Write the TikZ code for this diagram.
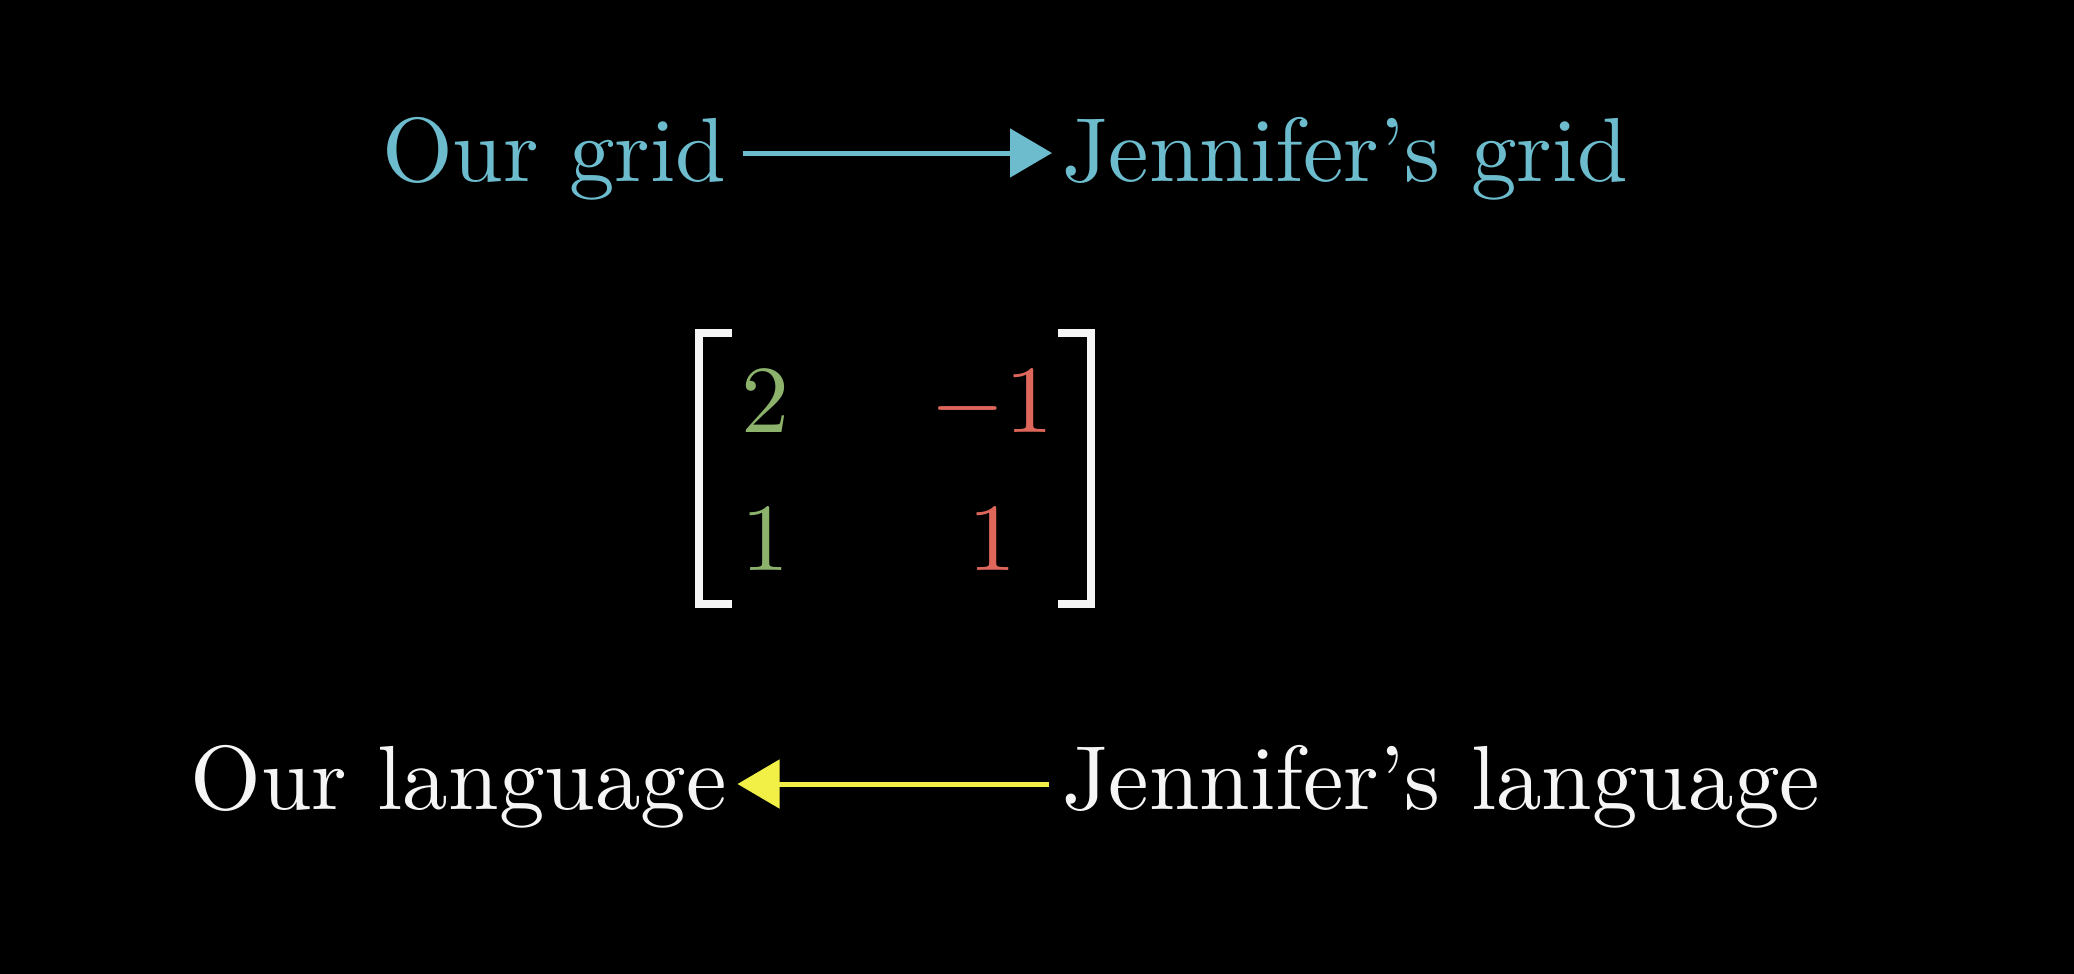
\documentclass[tikz,border=0pt]{standalone}
\usetikzlibrary{arrows.meta,calc}
\definecolor{gridblue}{RGB}{108,188,206}
\definecolor{colgreen}{RGB}{140,178,108}
\definecolor{colred}{RGB}{222,102,90}
\definecolor{arrowyellow}{RGB}{242,240,70}
\definecolor{txtwhite}{RGB}{245,245,245}
\tikzset{
  lbl/.style={inner sep=0pt, outer sep=0pt},
  ent/.style={inner sep=0pt, outer sep=0pt, anchor=base},
  conn/.style={line width=5pt, -{Triangle[length=42pt,width=48pt]}},
  brk/.style={draw=txtwhite, line width=8pt, line cap=butt, line join=miter}
}
\newcommand{\bigtxt}[1]{\scalebox{9.1}{#1}}
\newcommand{\bigmath}[1]{\scalebox{9.6}{$#1$}}
\begin{document}
\begin{tikzpicture}[x=1pt,y=-1pt]
\fill[black] (0,0) rectangle (2074,974);
\useasboundingbox (0,0) rectangle (2074,974);

% top row
\node[lbl, anchor=base east, text=gridblue] (og) at (726.5,181) {\bigtxt{Our grid}};
\node[lbl, anchor=base west, text=gridblue] (jg) at (1062,181) {\bigtxt{Jennifer's grid}};
\draw[conn, draw=gridblue, fill=gridblue] ($(og.base east)+(16,-28)$) -- ($(jg.base west)+(-10,-28)$);

% matrix
\node[ent, text=colgreen] (a11) at (765,432) {\bigmath{2}};
\node[ent, text=colred] (a12) at (992,432) {\bigmath{-1}};
\node[ent, text=colgreen] (a21) at (765,570) {\bigmath{1}};
\node[ent, text=colred] (a22) at (992,570) {\bigmath{1}};
\draw[brk] (732,333) -- (699,333) -- (699,604) -- (732,604);
\draw[brk] (1058,333) -- (1091,333) -- (1091,604) -- (1058,604);

% bottom row
\node[lbl, anchor=base east, text=txtwhite] (ol) at (726.5,809) {\bigtxt{Our language}};
\node[lbl, anchor=base west, text=txtwhite] (jl) at (1062,809) {\bigtxt{Jennifer's language}};
\draw[conn, draw=arrowyellow, fill=arrowyellow] ($(jl.base west)+(-13,-25)$) -- ($(ol.base east)+(11,-25)$);
\end{tikzpicture}
\end{document}
